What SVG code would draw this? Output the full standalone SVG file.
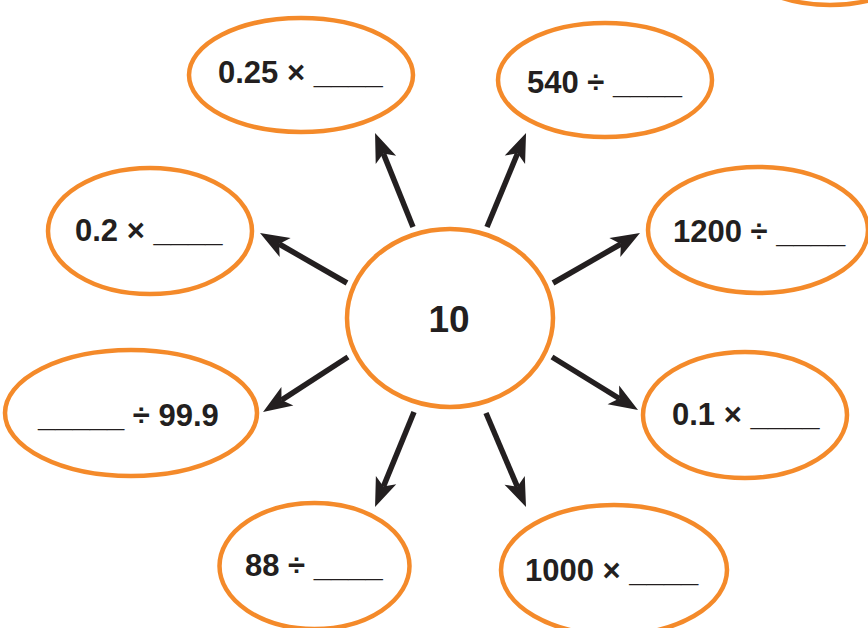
<svg xmlns="http://www.w3.org/2000/svg" width="868" height="628" viewBox="0 0 868 628">
<style>
.node ellipse{fill:#fff;stroke:#F48A2A;stroke-width:4.5}
.t{font-family:"Liberation Sans",Arial,sans-serif;font-weight:bold;font-size:31px;fill:#231F20}
.c{font-size:37px}
.conn line{stroke:#231F20;stroke-width:5.5;stroke-linecap:butt}
</style>
<defs>
<marker id="ah" markerUnits="userSpaceOnUse" viewBox="-10 -15 40 30" markerWidth="40" markerHeight="30" refX="0" refY="0" orient="auto" overflow="visible">
<path d="M22,0 L-7,-11 L0,0 L-7,11 Z" fill="#231F20"/>
</marker>
</defs>
<rect width="868" height="628" fill="#fff"/>
<g id="partial" class="node"><ellipse cx="830" cy="-55" rx="100" ry="60"/></g>
<g class="conn" id="connectors">
<line x1="413" y1="227" x2="383.3" y2="153.4" marker-end="url(#ah)"/>
<line x1="487" y1="227" x2="517.6" y2="153.3" marker-end="url(#ah)"/>
<line x1="347" y1="283" x2="279.1" y2="244" marker-end="url(#ah)"/>
<line x1="553" y1="283" x2="620.9" y2="244" marker-end="url(#ah)"/>
<line x1="348" y1="357" x2="281.5" y2="400.1" marker-end="url(#ah)"/>
<line x1="552" y1="357" x2="619.3" y2="398.5" marker-end="url(#ah)"/>
<line x1="414" y1="412" x2="383.4" y2="486.6" marker-end="url(#ah)"/>
<line x1="486" y1="413" x2="517.4" y2="486.8" marker-end="url(#ah)"/>
</g>
<g id="center" class="node"><ellipse cx="450" cy="318" rx="103" ry="89"/><text class="t c" x="449" y="332" text-anchor="middle">10</text></g>
<g id="n025" class="node"><ellipse cx="301" cy="75" rx="112" ry="57"/><text class="t" x="218" y="83">0.25 × ____</text></g>
<g id="n540" class="node"><ellipse cx="605" cy="80" rx="107" ry="57"/><text class="t" x="527" y="93">540 ÷ ____</text></g>
<g id="n02" class="node"><ellipse cx="150" cy="231" rx="102" ry="63"/><text class="t" x="75" y="241">0.2 × ____</text></g>
<g id="n1200" class="node"><ellipse cx="758" cy="230" rx="110" ry="63"/><text class="t" x="673" y="242">1200 ÷ ____</text></g>
<g id="n999" class="node"><ellipse cx="131" cy="413" rx="126" ry="63"/><text class="t" x="38" y="426">_____ ÷ 99.9</text></g>
<g id="n01" class="node"><ellipse cx="745" cy="415" rx="102" ry="63"/><text class="t" x="672" y="425">0.1 × ____</text></g>
<g id="n88" class="node"><ellipse cx="314.5" cy="566" rx="95" ry="63"/><text class="t" x="245" y="576">88 ÷ ____</text></g>
<g id="n1000" class="node"><ellipse cx="614" cy="570" rx="113" ry="65"/><text class="t" x="525" y="581">1000 × ____</text></g>
</svg>
